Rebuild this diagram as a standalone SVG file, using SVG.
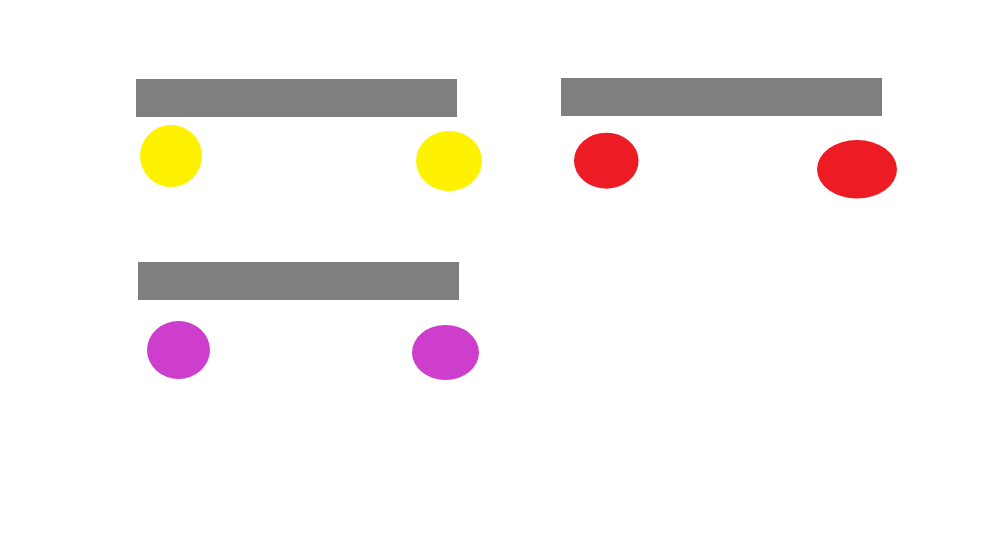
<svg xmlns="http://www.w3.org/2000/svg" width="1000" height="536" viewBox="0 0 1000 536">
<style>
.bar{fill:#7f7f7f}
.y{fill:#fff200}
.r{fill:#ed1c24}
.p{fill:#cc3ecb}
</style>
<rect width="1000" height="536" fill="#ffffff"/>
<g id="bar1"><rect class="bar" x="136" y="79" width="321" height="38"/></g>
<g id="bar2"><rect class="bar" x="561" y="78" width="321" height="38"/></g>
<g id="bar3"><rect class="bar" x="138" y="262" width="321" height="38"/></g>
<g id="yellow1"><ellipse class="y" cx="171" cy="156" rx="31" ry="31"/></g>
<g id="yellow2"><ellipse class="y" cx="449" cy="161" rx="33" ry="30"/></g>
<g id="red1"><ellipse class="r" cx="606.3" cy="160.7" rx="32.3" ry="28"/></g>
<g id="red2"><ellipse class="r" cx="857" cy="169.3" rx="40" ry="29.3"/></g>
<g id="purple1"><ellipse class="p" cx="178.5" cy="350" rx="31.5" ry="29"/></g>
<g id="purple2"><ellipse class="p" cx="445.5" cy="352.5" rx="33.5" ry="27.5"/></g>
<g id="connectors"></g>
</svg>
